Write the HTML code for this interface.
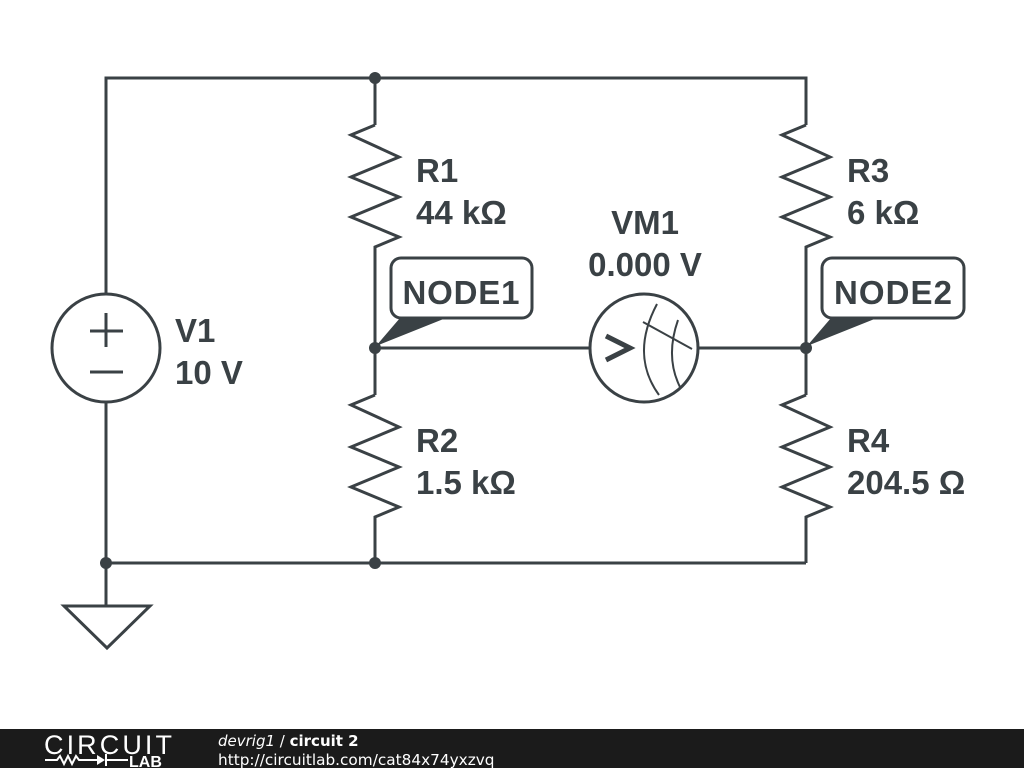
<!DOCTYPE html>
<html><head><meta charset="utf-8"><style>
html,body{margin:0;padding:0;background:#fff;}
svg{display:block;}
text{font-family:"Liberation Sans","DejaVu Sans",sans-serif;font-weight:bold;fill:#3a4145;}
.ft{font-family:"DejaVu Sans",sans-serif;}
</style></head><body>
<svg width="1024" height="768" viewBox="0 0 1024 768" xmlns="http://www.w3.org/2000/svg">
<g stroke="#3a4145" stroke-width="3" fill="none" stroke-linejoin="miter">
<polyline points="106,293 106,78 806,78 806,125"/>
<line x1="375" y1="78" x2="375" y2="125"/>
<line x1="106" y1="403" x2="106" y2="605"/>
<line x1="106" y1="563" x2="806" y2="563"/>
<polyline points="375,125 351,135 399,157 351,177 399,197 351,217 399,237 375,247 375,395"/>
<polyline points="375,395 351,405 399,427 351,447 399,467 351,487 399,507 375,517 375,563"/>
<polyline points="806,125 782,135 830,157 782,177 830,197 782,217 830,237 806,247 806,395"/>
<polyline points="806,395 782,405 830,427 782,447 830,467 782,487 830,507 806,517 806,563"/>
<line x1="375" y1="348" x2="590" y2="348"/>
<line x1="699" y1="348" x2="806" y2="348"/>
<circle cx="644" cy="348" r="54"/>
<path d="M659,395 Q630,355 657,304" stroke-width="2"/>
<path d="M680,387 Q665,357 678,320" stroke-width="2"/>
<line x1="643" y1="322" x2="692" y2="349" stroke-width="2"/>
<polyline points="606,336 630,348 606,360" stroke-width="5"/>
<circle cx="106" cy="348" r="54"/>
<line x1="90" y1="331" x2="123" y2="331"/>
<line x1="106" y1="313" x2="106" y2="347"/>
<line x1="90" y1="372" x2="123" y2="372"/>
<polygon points="64,606 150,606 107,648"/>
<rect x="391" y="258" width="141" height="60" rx="10" fill="#fff"/>
<rect x="822" y="258" width="142" height="60" rx="10" fill="#fff"/>
</g>
<g fill="#3a4145">
<polygon points="376,346 400,318 446,318"/>
<polygon points="807,346 831,318 877,318"/>
<circle cx="375" cy="78" r="6"/>
<circle cx="106" cy="563" r="6"/>
<circle cx="375" cy="563" r="6"/>
<circle cx="375" cy="348" r="6"/>
<circle cx="806" cy="348" r="6"/>
</g>
<g font-size="33">
<text x="416" y="182">R1</text>
<text x="416" y="224">44 kΩ</text>
<text x="416" y="452">R2</text>
<text x="416" y="494">1.5 kΩ</text>
<text x="847" y="182">R3</text>
<text x="847" y="224">6 kΩ</text>
<text x="847" y="452">R4</text>
<text x="847" y="494">204.5 Ω</text>
<text x="175" y="342">V1</text>
<text x="175" y="384">10 V</text>
<text x="645" y="234" text-anchor="middle">VM1</text>
<text x="645" y="276" text-anchor="middle">0.000 V</text>
<text x="461" y="304" text-anchor="middle" textLength="117">NODE1</text>
<text x="893" y="304" text-anchor="middle" textLength="118">NODE2</text>
</g>
<rect x="0" y="729" width="1024" height="39" fill="#1b1b1b"/>
<text x="44" y="754" font-size="27" textLength="128" style="font-weight:normal;fill:#fff">CIRCUIT</text>
<g stroke="#fff" stroke-width="2" fill="none">
<polyline points="45,760 57,760 60,756 64,764 68,756 72,764 76,756 79,760 97,760"/>
<line x1="107" y1="760" x2="128" y2="760"/>
</g>
<polygon points="97,755 105,760 97,765" fill="#fff"/>
<line x1="106" y1="754" x2="106" y2="766" stroke="#fff" stroke-width="2"/>
<text x="129" y="767" font-size="16" style="fill:#fff">LAB</text>
<text class="ft" x="218" y="746" font-size="15" style="fill:#fff"><tspan style="font-style:italic;font-weight:normal">devrig1</tspan><tspan style="font-weight:normal"> / </tspan>circuit 2</text>
<text class="ft" x="218" y="765" font-size="15.3" style="fill:#fff;font-weight:normal">http://circuitlab.com/cat84x74yxzvq</text>
</svg>
</body></html>
